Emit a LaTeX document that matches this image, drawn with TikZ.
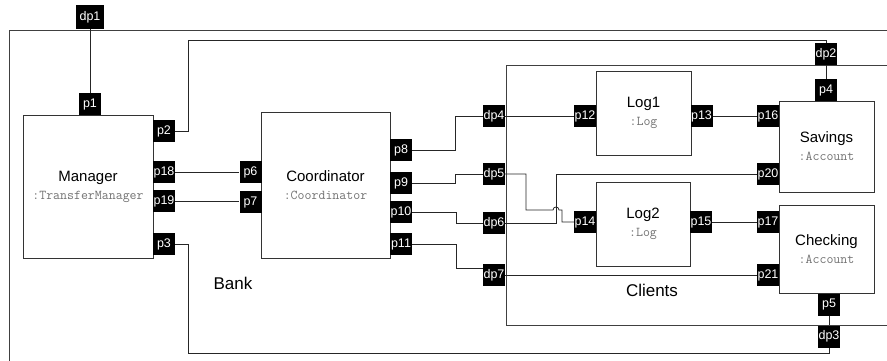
\documentclass[tikz,border=0pt]{standalone}
\usepackage{fontspec}
\setmainfont{Liberation Sans}
\tikzset{
  port/.style={fill=black, text=white, font=\fontsize{12.5}{13}\selectfont, minimum width=22pt, minimum height=22pt, inner sep=0pt},
  comp/.style={draw=black!80, line width=0.8pt, fill=white, align=center, inner sep=0pt, font=\fontsize{15}{18}\selectfont},
  wire/.style={draw=black!85, line width=0.8pt},
  frame/.style={draw=black!75, line width=0.8pt},
  biglbl/.style={font=\fontsize{17}{20}\selectfont}
}
\newcommand{\typ}[1]{{\ttfamily\fontsize{13.5}{13}\selectfont\color{black!55}#1}}
\begin{document}
\begin{tikzpicture}[x=1pt,y=-1pt]
\useasboundingbox (0,0) rectangle (887,360);
\clip (0,0) rectangle (887,360);
% frames
\draw[frame] (9,30) rectangle (900,380);
\draw[frame] (506,65) rectangle (900,325);
\node[biglbl] (banklbl) at (233,283) {Bank};
\node[biglbl] (clientslbl) at (652,290) {Clients};
% components
\node[comp, minimum width=130pt, minimum height=143pt] (mgr) at (88,186.5) {Manager\\\typ{:TransferManager}};
\node[comp, minimum width=129pt, minimum height=146pt] (coord) at (325.5,185) {Coordinator\\\typ{:Coordinator}};
\node[comp, minimum width=95pt, minimum height=84pt] (log1) at (643.5,113) {Log1\\\typ{:Log}};
\node[comp, minimum width=94pt, minimum height=84pt] (log2) at (643,224) {Log2\\\typ{:Log}};
\node[comp, minimum width=95pt, minimum height=91pt] (sav) at (826.5,146.5) {Savings\\\typ{:Account}};
\node[comp, minimum width=95pt, minimum height=88pt] (chk) at (826.5,249) {Checking\\\typ{:Account}};
% ports
\node[port, minimum width=28pt, minimum height=24pt] (dp1) at (90,17) {dp1};
\node[port] (p1) at (90,104) {p1};
\node[port] (p2) at (164,131) {p2};
\node[port] (p18) at (164,172) {p18};
\node[port] (p19) at (164,201) {p19};
\node[port] (p3) at (164,244) {p3};
\node[port] (p6) at (250.5,172) {p6};
\node[port] (p7) at (250.5,202) {p7};
\node[port] (p8) at (401,150) {p8};
\node[port] (p9) at (401,183) {p9};
\node[port] (p10) at (401,212) {p10};
\node[port] (p11) at (401,244) {p11};
\node[port] (dp4) at (494,116) {dp4};
\node[port] (dp5) at (494,174) {dp5};
\node[port] (dp6) at (494,223) {dp6};
\node[port] (dp7) at (494,275) {dp7};
\node[port] (p12) at (585,116) {p12};
\node[port] (p13) at (701.5,116) {p13};
\node[port] (p16) at (768,116) {p16};
\node[port] (p20) at (768,174) {p20};
\node[port] (p14) at (585,222) {p14};
\node[port] (p15) at (701,222) {p15};
\node[port] (p17) at (768,222) {p17};
\node[port] (p21) at (768,275) {p21};
\node[port] (p4) at (826,90) {p4};
\node[port] (dp2) at (826,54) {dp2};
\node[port] (p5) at (829,304.5) {p5};
\node[port] (dp3) at (829,336.5) {dp3};
% wires
\draw[wire] (dp1.south) -- (p1.north);
\draw[wire] (p2.east) -- (188,131) -- (188,40) -- (826,40) -- (dp2.north);
\draw[wire] (p3.east) -- (188,244) -- (188,353) -- (829,353) -- (dp3.south);
\draw[wire] (p18.east) -- (p6.west);
\draw[wire] (p19.east) -- (p19.east -| p7.west);
\draw[wire] (p8.east) -- (455,150) -- (455,116) -- (dp4.west);
\draw[wire] (p9.east) -- (455,183) -- (455,174) -- (dp5.west);
\draw[wire] (p10.east) -- (456,212) -- (456,223) -- (dp6.west);
\draw[wire] (p11.east) -- (456,244) -- (456,268) -- (dp7.west |- 456,268);
\draw[wire] (dp4.east) -- (p12.west);
\draw[wire] (dp5.east) -- (526,174) -- (526,210) -- (553,210) .. controls (553,206) and (559,206) .. (559,210) -- (562,210) -- (562,222) -- (p14.west);
\draw[wire] (dp6.east) -- (556,223) -- (556,174) -- (p20.west);
\draw[wire] (dp7.east) -- (p21.west);
\draw[wire] (p13.east) -- (p16.west);
\draw[wire] (p15.east) -- (p17.west);
\draw[wire] (dp2.south) -- (p4.north);
\draw[wire] (p5.south) -- (dp3.north);
\end{tikzpicture}
\end{document}
